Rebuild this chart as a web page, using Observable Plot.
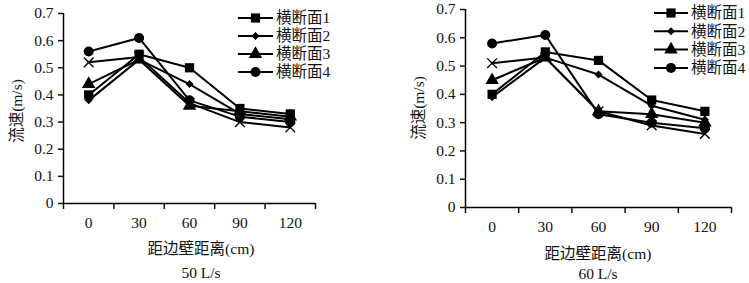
<!DOCTYPE html>
<html>
<head>
<meta charset="utf-8">
<script src="https://cdn.jsdelivr.net/npm/d3@7"></script>
<script src="https://cdn.jsdelivr.net/npm/@observablehq/plot@0.6"></script>
<style>
  html, body { margin: 0; padding: 0; background: #fff; }
  #root { position: relative; width: 749px; height: 283px; overflow: hidden; font-family: "Liberation Serif", "Noto Sans CJK SC", serif; color: #111; }
  .abs { position: absolute; }
  .lbl { position: absolute; font-size: 15.5px; white-space: nowrap; transform: translate(-50%, -50%); }
  .ylbl { position: absolute; font-size: 15.5px; white-space: nowrap; transform: translate(-50%, -50%) rotate(-90deg); }
</style>
</head>
<body>
<div id="root"></div>
<script>
// ---- data ----
const distances = [0, 30, 60, 90, 120];              // 距边壁距离 (cm)
const seriesNames = ["横断面1", "横断面2", "横断面3", "横断面4", "横断面5"];
const seriesSymbols = ["square", "diamond2", "triangle", "circle", "times"];
const yTicks = [0, 0.1, 0.2, 0.3, 0.4, 0.5, 0.6, 0.7];

// 50 L/s
const q50_s1 = [0.40, 0.55, 0.50, 0.35, 0.33];
const q50_s2 = [0.38, 0.53, 0.44, 0.33, 0.31];
const q50_s3 = [0.44, 0.53, 0.36, 0.34, 0.32];
const q50_s4 = [0.56, 0.61, 0.38, 0.32, 0.30];
const q50_s5 = [0.52, 0.54, 0.37, 0.30, 0.28];

// 60 L/s
const q60_s1 = [0.40, 0.55, 0.52, 0.38, 0.34];
const q60_s2 = [0.39, 0.53, 0.47, 0.36, 0.31];
const q60_s3 = [0.45, 0.53, 0.34, 0.33, 0.30];
const q60_s4 = [0.58, 0.61, 0.33, 0.30, 0.28];
const q60_s5 = [0.51, 0.53, 0.34, 0.29, 0.26];

const panelTitles = ["50 L/s", "60 L/s"];
const xLabel = "距边壁距离(cm)";
const yLabel = "流速(m/s)";

// ---- build ----
const symbolR = { square: 5.2, diamond2: 3.6, triangle: 5.0, circle: 5.0 };
const root = document.getElementById("root");
const FONT = '"Liberation Serif", "Noto Sans CJK SC", serif';

function buildData(series) {
  const rows = [];
  series.forEach((vals, i) => vals.forEach((v, j) => rows.push({
    series: seriesNames[i], sym: seriesSymbols[i], x: distances[j], y: v
  })));
  return rows;
}

function makePanel(series, o) {
  const data = buildData(series);
  const step = distances[1] - distances[0];
  const lo = distances[0] - step / 2, hi = distances[distances.length - 1] + step / 2;
  const bounds = d3.range(distances.length + 1).map(i => lo + i * step);
  const marks = [
    Plot.ruleY([0], { x1: lo, x2: hi, stroke: "black", strokeWidth: 1.5 }),
    Plot.ruleX([lo], { y1: 0, y2: 0.7, stroke: "black", strokeWidth: 1.5 }),
    Plot.axisX({ ticks: bounds, tickFormat: () => "", tickSize: 6, strokeWidth: 1.5, label: null }),
    Plot.axisX({ ticks: distances, tickSize: 0, tickPadding: 13, label: null, fontSize: 15.5 }),
    Plot.axisY({ ticks: yTicks, tickSize: 5, tickPadding: 5, strokeWidth: 1.5, label: null, fontSize: 15.5,
                 tickFormat: d => String(+d.toFixed(1)) }),
    Plot.line(data, { x: "x", y: "y", z: "series", stroke: "black", strokeWidth: 2 })
  ];
  for (const s of ["square", "diamond2", "triangle", "circle"]) {
    marks.push(Plot.dot(data.filter(d => d.sym === s), { x: "x", y: "y", symbol: s, r: symbolR[s], fill: "black", stroke: "none" }));
  }
  marks.push(Plot.dot(data.filter(d => d.sym === "times"), { x: "x", y: "y", symbol: "times", r: 4.5, stroke: "black", strokeWidth: 1.4, fill: "none" }));

  const chart = Plot.plot({
    width: o.width, height: o.height,
    marginLeft: o.ml, marginRight: o.mr, marginTop: o.mt, marginBottom: o.mb,
    x: { domain: [lo, hi] },
    y: { domain: [0, 0.7] },
    style: { fontFamily: FONT, fontSize: "15.5px", color: "#111", background: "transparent", overflow: "visible" },
    marks
  });
  const wrap = document.createElement("div");
  wrap.className = "abs";
  wrap.style.left = o.left + "px";
  wrap.style.top = "0px";
  wrap.appendChild(chart);
  root.appendChild(wrap);

  // legend (first four series)
  const lg = d3.create("svg").attr("width", o.width).attr("height", 100)
    .style("position", "absolute").style("left", o.left + "px").style("top", "0px").style("overflow", "visible");
  for (let i = 0; i < 4; i++) {
    const y = o.lgY + i * o.lgDy;
    lg.append("line").attr("x1", o.lgX1).attr("x2", o.lgX2).attr("y1", y).attr("y2", y)
      .attr("stroke", "black").attr("stroke-width", 2);
    const s = seriesSymbols[i];
    const sym = { square: d3.symbolSquare, diamond2: d3.symbolDiamond2, triangle: d3.symbolTriangle, circle: d3.symbolCircle }[s];
    lg.append("path").attr("d", d3.symbol(sym, Math.PI * symbolR[s] ** 2)())
      .attr("transform", `translate(${(o.lgX1 + o.lgX2) / 2},${y})`).attr("fill", "black");
    lg.append("text").attr("x", o.lgX2 + 3).attr("y", y).attr("dy", "0.35em")
      .attr("font-family", FONT).attr("font-size", "15.5px").attr("fill", "#111").text(seriesNames[i]);
  }
  root.appendChild(lg.node());

  const addLabel = (cls, text, x, y) => {
    const d = document.createElement("div");
    d.className = cls; d.textContent = text;
    d.style.left = x + "px"; d.style.top = y + "px";
    root.appendChild(d);
  };
  addLabel("lbl", xLabel, o.left + o.xLabX, o.xLabY);
  addLabel("lbl", o.title, o.left + o.xLabX, o.titleY);
  addLabel("ylbl", yLabel, o.yLabX, o.yLabY);
}

makePanel([q50_s1, q50_s2, q50_s3, q50_s4, q50_s5], {
  left: 0, width: 375, height: 235, ml: 63, mr: 60, mt: 13, mb: 32,
  lgX1: 238, lgX2: 273, lgY: 18, lgDy: 18,
  xLabX: 201, xLabY: 247, titleY: 273, title: panelTitles[0],
  yLabX: 15, yLabY: 111
});
makePanel([q60_s1, q60_s2, q60_s3, q60_s4, q60_s5], {
  left: 375, width: 374, height: 235, ml: 90, mr: 18, mt: 9, mb: 28,
  lgX1: 279, lgX2: 313, lgY: 13, lgDy: 18.3,
  xLabX: 223, xLabY: 252, titleY: 274, title: panelTitles[1],
  yLabX: 417, yLabY: 108
});
</script>
</body>
</html>
